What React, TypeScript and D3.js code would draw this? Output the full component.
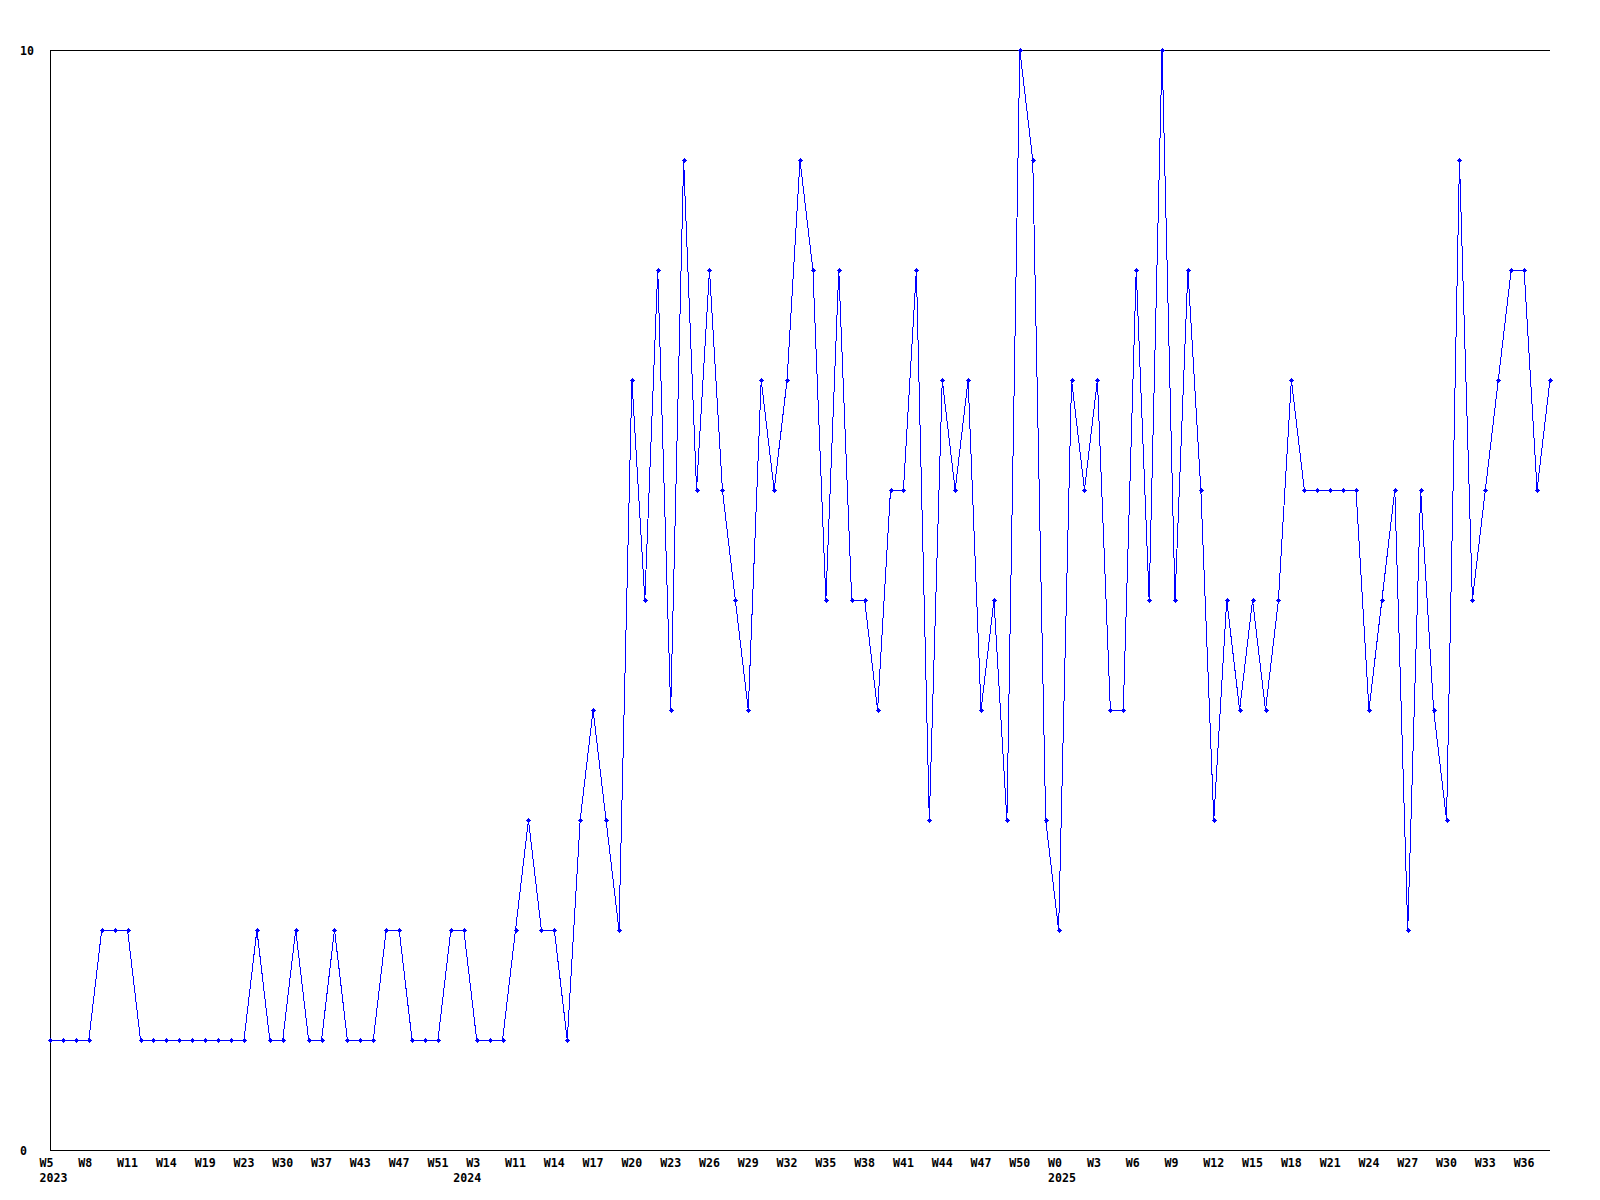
import * as d3 from 'd3';
import { useEffect, useRef } from 'react';

// weekly counts, one point per sampled week
const values = [
  1, 1, 1, 1, 2, 2, 2, 1, 1, 1,
  1, 1, 1, 1, 1, 1, 2, 1, 1, 2,
  1, 1, 2, 1, 1, 1, 2, 2, 1, 1,
  1, 2, 2, 1, 1, 1, 2, 3, 2, 2,
  1, 3, 4, 3, 2, 7, 5, 8, 4, 9,
  6, 8, 6, 5, 4, 7, 6, 7, 9, 8,
  5, 8, 5, 5, 4, 6, 6, 8, 3, 7,
  6, 7, 4, 5, 3, 10, 9, 3, 2, 7,
  6, 7, 4, 4, 8, 5, 10, 5, 8, 6,
  3, 5, 4, 5, 4, 5, 7, 6, 6, 6,
  6, 6, 4, 5, 6, 2, 6, 4, 3, 9,
  5, 6, 7, 8, 8, 6, 7,
];

// a week label on every third point
const weekLabels = [
  'W5', 'W8', 'W11', 'W14', 'W19', 'W23', 'W30', 'W37', 'W43', 'W47', 'W51',
  'W3', 'W11', 'W14', 'W17', 'W20', 'W23', 'W26', 'W29', 'W32', 'W35', 'W38',
  'W41', 'W44', 'W47', 'W50', 'W0', 'W3', 'W6', 'W9', 'W12', 'W15', 'W18',
  'W21', 'W24', 'W27', 'W30', 'W33', 'W36',
];
const labelStep = 3;

const yearLabels = ['2023', '2024', '2025'];
const yearStarts = [0, 32, 78];

const yTicks = [0, 10];

export default function App() {
  const svgRef = useRef<SVGSVGElement>(null);

  useEffect(() => {
    if (!svgRef.current) return;

    const W = 1600;
    const H = 1200;
    const margin = { top: 50, right: 50, bottom: 50, left: 50 };
    const width = W - margin.left - margin.right;
    const height = H - margin.top - margin.bottom;
    const font = '"DejaVu Sans Mono", monospace';

    const svg = d3.select(svgRef.current);
    svg.selectAll('*').remove();
    svg.attr('width', W).attr('height', H);

    svg.append('rect').attr('width', W).attr('height', H).attr('fill', '#fff');

    const g = svg.append('g').attr('transform', `translate(${margin.left},${margin.top})`);

    const x = d3.scaleLinear().domain([0, values.length - 1]).range([0, width]);
    const y = d3.scaleLinear().domain([0, 10]).range([height, 0]);

    // frame: top, left, bottom
    g.append('path')
      .attr('d', `M${width},0.5H0.5V${height + 0.5}H${width}`)
      .attr('fill', 'none')
      .attr('stroke', '#000')
      .attr('stroke-width', 1)
      .attr('shape-rendering', 'crispEdges');

    // y labels
    g.selectAll('text.ylab')
      .data(yTicks)
      .join('text')
      .attr('class', 'ylab')
      .attr('x', 20 - margin.left)
      .attr('y', (d) => y(d) + 4.5)
      .attr('font-family', font)
      .attr('font-weight', 'bold')
      .attr('font-size', 11.6)
      .attr('fill', '#000')
      .text((d) => d);

    // week labels
    g.selectAll('text.wlab')
      .data(weekLabels)
      .join('text')
      .attr('class', 'wlab')
      .attr('x', (_, i) => x(i * labelStep) - 10.5)
      .attr('y', height + 17)
      .attr('font-family', font)
      .attr('font-weight', 'bold')
      .attr('font-size', 11.6)
      .attr('fill', '#000')
      .text((d) => d);

    // year labels
    g.selectAll('text.yrlab')
      .data(yearLabels)
      .join('text')
      .attr('class', 'yrlab')
      .attr('x', (_, i) => x(yearStarts[i]) - 10.5)
      .attr('y', height + 32)
      .attr('font-family', font)
      .attr('font-weight', 'bold')
      .attr('font-size', 11.6)
      .attr('fill', '#000')
      .text((d) => d);

    const line = d3
      .line<number>()
      .x((_, i) => x(i))
      .y((d) => y(d));

    g.append('path')
      .datum(values)
      .attr('d', line)
      .attr('fill', 'none')
      .attr('stroke', '#0000ff')
      .attr('stroke-width', 1)
      .attr('shape-rendering', 'crispEdges');

    // point markers: small plus with a solid centre
    g.selectAll('path.mark')
      .data(values)
      .join('path')
      .attr('class', 'mark')
      .attr('transform', (d, i) => `translate(${Math.round(x(i))},${Math.round(y(d))})`)
      .attr('d', 'M-2,0h5v1h-5Z M0,-2h1v5h-1Z M-1,-1h3v3h-3Z')
      .attr('fill', '#0000ff')
      .attr('shape-rendering', 'crispEdges');
  }, []);

  return (
    <svg
      ref={svgRef}
      style={{ position: 'absolute', left: 0, top: 0, display: 'block' }}
    />
  );
}
